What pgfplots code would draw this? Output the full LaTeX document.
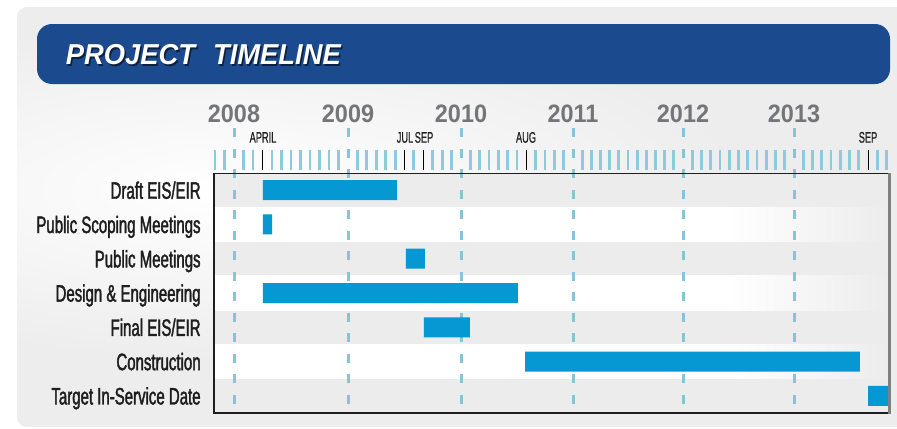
\documentclass[border=0pt]{standalone}
\usepackage{pgfplots}
\pgfplotsset{compat=1.18}
\usepackage{fontspec}
\setmainfont{Liberation Sans}
\newfontfamily\labfont[FakeStretch=0.63, FakeBold=1.6]{Liberation Sans}
\newfontfamily\monthfont[FakeStretch=0.6, FakeBold=0.6]{Liberation Sans}
\newfontfamily\yearfont[FakeStretch=0.93]{Liberation Sans}
\newfontfamily\titlefont[FakeStretch=0.95]{Liberation Sans}
\definecolor{barblue}{HTML}{0698D2}
\definecolor{panel}{HTML}{EDEDED}
\definecolor{bandgray}{HTML}{ECECEC}
\definecolor{banner}{HTML}{1B4A8F}
\definecolor{yeargray}{HTML}{747578}
\definecolor{ydash}{HTML}{88C4D6}
\definecolor{mtick}{HTML}{8DCBDC}
\definecolor{labcol}{HTML}{1E1E1E}
\pgfdeclarehorizontalshading{rowfade}{100bp}{color(0bp)=(white); color(25bp)=(white); color(63bp)=(white); color(75bp)=(bandgray); color(100bp)=(bandgray)}
\begin{document}
\begin{tikzpicture}
\begin{scope}[x=0.5pt,y=-0.5pt]
\useasboundingbox (0,0) rectangle (897,428);
\clip (0,0) rectangle (897,428);
\fill[white] (0,0) rectangle (897,428);
\begin{scope}
\clip[rounded corners=5pt] (17,7) rectangle (940,427);
\fill[panel] (17,7) rectangle (940,427);
\shade[inner color=white, outer color=panel] (230,190) ellipse [x radius=520, y radius=170];
\end{scope}
% banner
\fill[banner, rounded corners=7.5pt] (37,24) rectangle (890,84);
\node[anchor=base west, inner sep=0pt, text=black, opacity=0.55, font=\titlefont\bfseries\itshape\fontsize{14.4}{15}\selectfont] at (67,66) {PROJECT\hspace{9pt}TIMELINE};
\node[anchor=base west, inner sep=0pt, text=white, font=\titlefont\bfseries\itshape\fontsize{14.4}{15}\selectfont] at (65.5,64) {PROJECT\hspace{9pt}TIMELINE};
% row bands
\fill[bandgray] (214,173) rectangle (889,413);
\foreach \k in {1,3,5}{
  \shade[shading=rowfade] (214,{173+34.2857*\k}) rectangle (889,{173+34.2857*(\k+1)});
}
% year labels and dashed year lines
\foreach \x/\yr in {234/2008,348/2009,461/2010,573/2011,683/2012,794/2013}{
  \node[anchor=base, inner sep=0pt, text=yeargray, font=\yearfont\bfseries\fontsize{12.6}{13}\selectfont] at (\x,122) {\yr};
  \draw[ydash, line width=1.5pt, dash pattern=on 4.5pt off 5.75pt] (\x,128) -- (\x,413);
}
% month ticks
\foreach \x in {215,224.5}{\draw[mtick, line width=1.45pt] (\x,150) -- (\x,170);}
\foreach \a/\b [count=\k from 0] in {234/348,348/461,461/573,573/683,683/794,794/905}{
  \foreach \m in {1,...,11}{
    \pgfmathtruncatemacro\mc{\k*12+\m}
    \pgfmathtruncatemacro\isb{(\mc==3)||(\mc==18)||(\mc==20)||(\mc==31)||(\mc==68)}
    \pgfmathsetmacro\xx{\a+(\b-\a)*\m/12}
    \pgfmathtruncatemacro\inside{\xx<889}
    \ifnum\inside=1
      \ifnum\isb=1
        \draw[black, line width=0.5pt] (\xx,150) -- (\xx,170);
      \else
        \draw[mtick, line width=1.45pt] (\xx,150) -- (\xx,170);
      \fi
    \fi
  }
}
% month labels
\foreach \x/\t in {263/APRIL,405/JUL,424/SEP,526/AUG,868/SEP}{
  \node[anchor=base, inner sep=0pt, text=labcol, font=\monthfont\fontsize{7.7}{8}\selectfont] at (\x,142.7) {\t};
}
\end{scope}
\begin{axis}[
  at={(107pt,-86.5pt)}, anchor=north west,
  scale only axis, width=337.5pt, height=120pt,
  xmin=-0.178, xmax=5.838, ymin=-0.5, ymax=6.5, y dir=reverse,
  xbar stacked, bar width=10pt,
  axis line style={draw=none},
  xtick=\empty,
  ytick={0,...,6},
  yticklabels={Draft EIS/EIR, Public Scoping Meetings, Public Meetings, Design \& Engineering, Final EIS/EIR, Construction, Target In-Service Date},
  major tick length=0pt,
  yticklabel style={font=\labfont\fontsize{11.9}{12}\selectfont, text=labcol, anchor=base east, inner sep=0pt, xshift=-6.5pt, yshift=-4.3pt},
]
\addplot[draw=none, fill=none, forget plot] coordinates {(0.258,0) (0.258,1) (1.533,2) (0.258,3) (1.693,4) (2.594,5) (5.651,6)};
\addplot[draw=none, fill=barblue] coordinates {(1.195,0) (0.081,1) (0.169,2) (2.273,3) (0.410,4) (2.985,5) (0.187,6)};
\end{axis}
\begin{scope}[x=0.5pt,y=-0.5pt]
\draw[labcol, line width=0.5pt] (214,173) -- (889,173);
\draw[labcol, line width=0.7pt] (214,173) -- (214,413) -- (889,413);
\draw[black!50, line width=1.1pt] (889.5,173) -- (889.5,414);
\end{scope}
\end{tikzpicture}
\end{document}
